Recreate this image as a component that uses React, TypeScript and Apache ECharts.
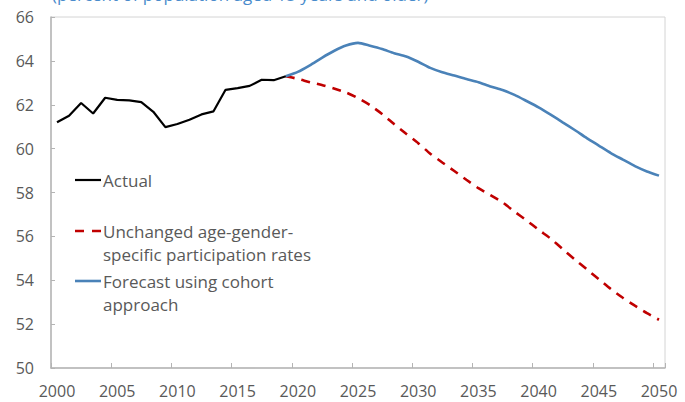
import React, { useEffect, useRef } from "react";
import * as echarts from "echarts";

const years: string[] = [];
for (let y = 2000; y <= 2050; y++) years.push(String(y));

const actual = [
  61.2, 61.5, 62.08, 61.6, 62.32, 62.22, 62.2, 62.12, 61.68, 60.98,
  61.12, 61.32, 61.56, 61.7, 62.68, 62.76, 62.86, 63.14, 63.12, 63.3,
];

const unchangedYears = [
  2019, 2020, 2021, 2022, 2023, 2024, 2025, 2026, 2027, 2028, 2029, 2030,
  2031, 2032, 2033, 2034, 2035, 2036, 2037, 2038, 2039, 2040, 2041, 2042,
  2043, 2044, 2045, 2046, 2047, 2048, 2049, 2050,
];
const unchanged = [
  63.3, 63.18, 63.03, 62.9, 62.74, 62.56, 62.3, 61.98, 61.58, 61.12, 60.68,
  60.25, 59.77, 59.37, 58.98, 58.58, 58.2, 57.88, 57.55, 57.13, 56.73, 56.3,
  55.9, 55.42, 54.95, 54.5, 54.05, 53.6, 53.2, 52.84, 52.5, 52.2,
];
const cohort = [
  63.3, 63.5, 63.8, 64.14, 64.45, 64.7, 64.82, 64.69, 64.54, 64.35, 64.2,
  63.96, 63.68, 63.48, 63.33, 63.17, 63.03, 62.83, 62.67, 62.45, 62.17,
  61.88, 61.55, 61.2, 60.85, 60.48, 60.14, 59.8, 59.5, 59.2, 58.96, 58.77,
];

const legendActual = "Actual";
const legendUnchanged = "Unchanged age-gender-\nspecific participation rates";
const legendCohort = "Forecast using cohort\napproach";
const subtitle = "(percent of population aged 15 years and older)";

const FONT = "'Open Sans', 'Noto Sans', sans-serif";
const TXT = "#595959";

function toPairs(ys: number[], vals: number[]): [string, number][] {
  return ys.map((y, i) => [String(y), vals[i]]);
}

export default function App() {
  const ref = useRef<HTMLDivElement>(null);
  useEffect(() => {
    if (!ref.current) return;
    const chart = echarts.init(ref.current, null, { renderer: "svg" });
    chart.setOption({
      animation: false,
      backgroundColor: "#ffffff",
      textStyle: { fontFamily: FONT },
      grid: {
        left: 51,
        top: 17,
        right: 20,
        bottom: 34,
        show: true,
        borderColor: "#d4d4d4",
        borderWidth: 1,
      },
      xAxis: {
        type: "category",
        data: years,
        boundaryGap: true,
        axisLine: { show: true, lineStyle: { color: "#b4b4b4", width: 1.5 } },
        axisTick: {
          show: true,
          inside: true,
          length: 5,
          interval: 4,
          lineStyle: { color: "#b4b4b4", width: 1 },
        },
        axisLabel: {
          interval: 4,
          color: TXT,
          fontSize: 16,
          fontFamily: FONT,
          margin: 15,
        },
        splitLine: { show: false },
      },
      yAxis: {
        type: "value",
        min: 50,
        max: 66,
        interval: 2,
        axisLine: { show: true, lineStyle: { color: "#b4b4b4", width: 1.5 } },
        axisTick: {
          show: true,
          inside: true,
          length: 4,
          lineStyle: { color: "#b4b4b4", width: 1 },
        },
        axisLabel: {
          color: TXT,
          fontSize: 16,
          fontFamily: FONT,
          margin: 17,
        },
        splitLine: { show: false },
      },
      series: [
        {
          name: "Unchanged",
          type: "line",
          data: toPairs(unchangedYears, unchanged),
          symbol: "none",
          smooth: 0.2,
          lineStyle: { color: "#c00000", width: 2.6, type: [9, 7] },
          z: 3,
        },
        {
          name: "Cohort",
          type: "line",
          data: toPairs(unchangedYears, cohort),
          symbol: "none",
          smooth: 0.2,
          lineStyle: { color: "#4a82b8", width: 2.6 },
          z: 4,
        },
        {
          name: "Actual",
          type: "line",
          data: toPairs(years.slice(0, actual.length).map(Number), actual),
          symbol: "none",
          lineStyle: { color: "#000000", width: 2.2 },
          z: 5,
        },
      ],
      graphic: [
        {
          type: "text",
          left: 52,
          top: -14,
          style: {
            text: subtitle,
            fill: "#4a8ccc",
            font: `17px ${FONT}`,
          },
        },
        {
          type: "line",
          shape: { x1: 75, y1: 180, x2: 101, y2: 180 },
          style: { stroke: "#000000", lineWidth: 2.2 },
        },
        {
          type: "text",
          x: 103,
          y: 180,
          style: {
            text: legendActual,
            fill: TXT,
            font: `17px ${FONT}`,
            verticalAlign: "middle",
          },
        },
        {
          type: "line",
          shape: { x1: 75, y1: 231, x2: 102, y2: 231 },
          style: { stroke: "#c00000", lineWidth: 2.6, lineDash: [9, 8] },
        },
        {
          type: "text",
          x: 103,
          y: 219.5,
          style: {
            text: legendUnchanged,
            fill: TXT,
            font: `17px ${FONT}`,
            lineHeight: 23,
            verticalAlign: "top",
          },
        },
        {
          type: "line",
          shape: { x1: 75, y1: 281, x2: 101, y2: 281 },
          style: { stroke: "#4a82b8", lineWidth: 2.6 },
        },
        {
          type: "text",
          x: 103,
          y: 269.5,
          style: {
            text: legendCohort,
            fill: TXT,
            font: `17px ${FONT}`,
            lineHeight: 23,
            verticalAlign: "top",
          },
        },
      ],
    });
    return () => chart.dispose();
  }, []);
  return (
    <div
      ref={ref}
      style={{ position: "fixed", left: 0, top: 0, width: 685, height: 402 }}
    />
  );
}
